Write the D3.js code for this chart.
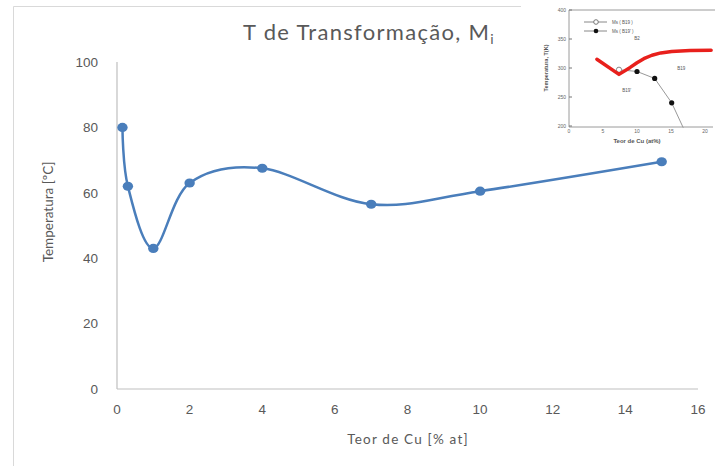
<!DOCTYPE html>
<html>
<head>
<meta charset="utf-8">
<script src="https://cdn.jsdelivr.net/npm/d3@7"></script>
<style>
html,body{margin:0;padding:0;background:#fff;}
svg{display:block;}
</style>
</head>
<body>
<svg id="chart" width="715" height="466"></svg>
<script>
// Main chart data
const cuContent = [0.15, 0.3, 1, 2, 4, 7, 10, 15];
const transformTemp = [80, 62, 43, 63, 67.5, 56.5, 60.5, 69.5];
const xTicks = [0, 2, 4, 6, 8, 10, 12, 14, 16];
const yTicks = [0, 20, 40, 60, 80, 100];

// Inset chart data
const insetRedX = [4.1, 7.35, 9, 10, 11, 12.2, 13.5, 15.1, 17.8, 20.9];
const insetRedT = [315, 289, 301, 309, 316, 322, 326, 328.5, 330, 330.5];
const insetB19pX = [7.35, 10, 12.6, 15.1, 16.8];
const insetB19pT = [297, 294, 282, 240, 197];
const insetB19pMarkers = [false, true, true, true, false];
const insetXTicks = [0, 5, 10, 15, 20];
const insetYTicks = [200, 250, 300, 350, 400];
const insetPhaseLabels = ["B2", "B19", "B19'"];
const insetPhaseX = [10, 16.5, 8.5];
const insetPhaseT = [348, 297, 258];

const svg = d3.select("#chart");
const grey = "#595959";
const axisGrey = "#BFBFBF";
const blue = "#4A7EBB";

// outer frame (partial border)
svg.append("path")
  .attr("d", "M521,6.5 H13.5 V466")
  .attr("fill", "none").attr("stroke", "#D9D9D9").attr("stroke-width", 1);

// scales
const x = d3.scaleLinear().domain([0, 16]).range([117, 698]);
const y = d3.scaleLinear().domain([0, 100]).range([389, 62]);

// axes lines
svg.append("line").attr("x1", x(0)).attr("x2", x(0)).attr("y1", y(100)).attr("y2", y(0))
  .attr("stroke", axisGrey).attr("stroke-width", 1.2);
svg.append("line").attr("x1", x(0)).attr("x2", x(16)).attr("y1", y(0)).attr("y2", y(0))
  .attr("stroke", axisGrey).attr("stroke-width", 1.2);

// tick labels
svg.append("g").selectAll("text").data(yTicks).join("text")
  .attr("x", x(0) - 19).attr("y", d => y(d)).attr("dy", "0.35em")
  .attr("text-anchor", "end")
  .attr("font-family", "Liberation Sans, Arial, sans-serif").attr("font-size", 13.5)
  .attr("fill", grey).text(d => d);
svg.append("g").selectAll("text").data(xTicks).join("text")
  .attr("x", d => x(d)).attr("y", 414)
  .attr("text-anchor", "middle")
  .attr("font-family", "Liberation Sans, Arial, sans-serif").attr("font-size", 13.5)
  .attr("fill", grey).text(d => d);

// axis titles
svg.append("text").attr("x", 408).attr("y", 444).attr("text-anchor", "middle")
  .attr("font-family", "Lato, sans-serif").attr("font-size", 13.5).attr("letter-spacing", 1.2)
  .attr("fill", grey)
  .text("Teor de Cu [% at]");
svg.append("text").attr("transform", "translate(53,212) rotate(-90)").attr("text-anchor", "middle")
  .attr("font-family", "Lato, sans-serif").attr("font-size", 13.5).attr("fill", grey)
  .text("Temperatura [ºC]");

// title
const title = svg.append("text").attr("x", 369).attr("y", 40).attr("text-anchor", "middle")
  .attr("font-family", "Lato, sans-serif").attr("font-size", 22).attr("letter-spacing", 1.3)
  .attr("fill", grey);
title.append("tspan").text("T de Transformação, M");
title.append("tspan").attr("font-size", 14).attr("dy", 4).text("i");

// series
const pts = cuContent.map((c, i) => [c, transformTemp[i]]);
const line = d3.line().x(d => x(d[0])).y(d => y(d[1])).curve(d3.curveCardinal.tension(0));
svg.append("path").datum(pts).attr("d", line).attr("fill", "none")
  .attr("stroke", blue).attr("stroke-width", 2.5);
svg.append("g").selectAll("ellipse").data(pts).join("ellipse")
  .attr("cx", d => x(d[0])).attr("cy", d => y(d[1])).attr("rx", 5.2).attr("ry", 4.6).attr("fill", blue);

// ---------- inset ----------
const ins = svg.append("g");
ins.append("rect").attr("x", 522).attr("y", 0).attr("width", 193).attr("height", 150).attr("fill", "#fff");
const ix = d3.scaleLinear().domain([0, 20]).range([569, 705]);
const iy = d3.scaleLinear().domain([200, 400]).range([126, 10]);
const insetFont = "Liberation Sans, Arial, sans-serif";

ins.append("path")
  .attr("d", `M${ix(0)},${iy(400)} V${iy(200)+1} H713 M${ix(0)},${iy(400)} H715`)
  .attr("fill", "none").attr("stroke", "#9a9a9a").attr("stroke-width", 1);
ins.append("g").selectAll("line").data(insetYTicks).join("line")
  .attr("x1", ix(0)).attr("x2", ix(0) + 3).attr("y1", d => iy(d)).attr("y2", d => iy(d))
  .attr("stroke", "#777");
ins.append("g").selectAll("text").data(insetYTicks).join("text")
  .attr("x", ix(0) - 3).attr("y", d => iy(d)).attr("dy", "0.35em").attr("text-anchor", "end")
  .attr("font-family", insetFont).attr("font-size", 5).attr("fill", "#666").text(d => d);
ins.append("g").selectAll("text").data(insetXTicks).join("text")
  .attr("x", d => ix(d)).attr("y", 133).attr("text-anchor", "middle")
  .attr("font-family", insetFont).attr("font-size", 5).attr("fill", "#666").text(d => d);
ins.append("text").attr("x", 637).attr("y", 143).attr("text-anchor", "middle")
  .attr("font-family", insetFont).attr("font-size", 6).attr("font-weight", "bold").attr("fill", "#555")
  .text("Teor de Cu (at%)");
ins.append("text").attr("transform", "translate(548,68) rotate(-90)").attr("text-anchor", "middle")
  .attr("font-family", insetFont).attr("font-size", 5.5).attr("font-weight", "bold").attr("fill", "#555")
  .text("Temperatura, T(K)");

// legend
ins.append("line").attr("x1", 584).attr("x2", 607).attr("y1", 22).attr("y2", 22).attr("stroke", "#888");
ins.append("circle").attr("cx", 596).attr("cy", 22).attr("r", 2.3).attr("fill", "#fff").attr("stroke", "#777");
ins.append("text").attr("x", 612).attr("y", 24).attr("font-family", insetFont).attr("font-size", 4.5)
  .attr("fill", "#555").text("Ms  ( B19 )");
ins.append("line").attr("x1", 584).attr("x2", 607).attr("y1", 31).attr("y2", 31).attr("stroke", "#888");
ins.append("circle").attr("cx", 596).attr("cy", 31).attr("r", 2.3).attr("fill", "#111");
ins.append("text").attr("x", 612).attr("y", 33).attr("font-family", insetFont).attr("font-size", 4.5)
  .attr("fill", "#555").text("Ms  ( B19' )");

// phase labels
ins.append("g").selectAll("text").data(insetPhaseLabels).join("text")
  .attr("x", (d, i) => ix(insetPhaseX[i])).attr("y", (d, i) => iy(insetPhaseT[i]))
  .attr("text-anchor", "middle").attr("font-family", insetFont).attr("font-size", 4.5)
  .attr("fill", "#555").text(d => d);

// B19' line
const b19p = insetB19pX.map((v, i) => [v, insetB19pT[i], insetB19pMarkers[i]]);
ins.append("path").datum(b19p)
  .attr("d", d3.line().x(d => ix(d[0])).y(d => iy(d[1])))
  .attr("fill", "none").attr("stroke", "#999").attr("stroke-width", 1);
ins.append("circle").attr("cx", ix(7.35)).attr("cy", iy(297)).attr("r", 2.6)
  .attr("fill", "#fff").attr("stroke", "#888");
ins.append("g").selectAll("circle").data(b19p.filter(d => d[2])).join("circle")
  .attr("cx", d => ix(d[0])).attr("cy", d => iy(d[1])).attr("r", 2.6).attr("fill", "#111");

// red curve
const red = insetRedX.map((v, i) => [v, insetRedT[i]]);
ins.append("path").datum(red)
  .attr("d", d3.line().x(d => ix(d[0])).y(d => iy(d[1])))
  .attr("fill", "none").attr("stroke", "#E8201C").attr("stroke-width", 3.5)
  .attr("stroke-linejoin", "round").attr("stroke-linecap", "round");
</script>
</body>
</html>
